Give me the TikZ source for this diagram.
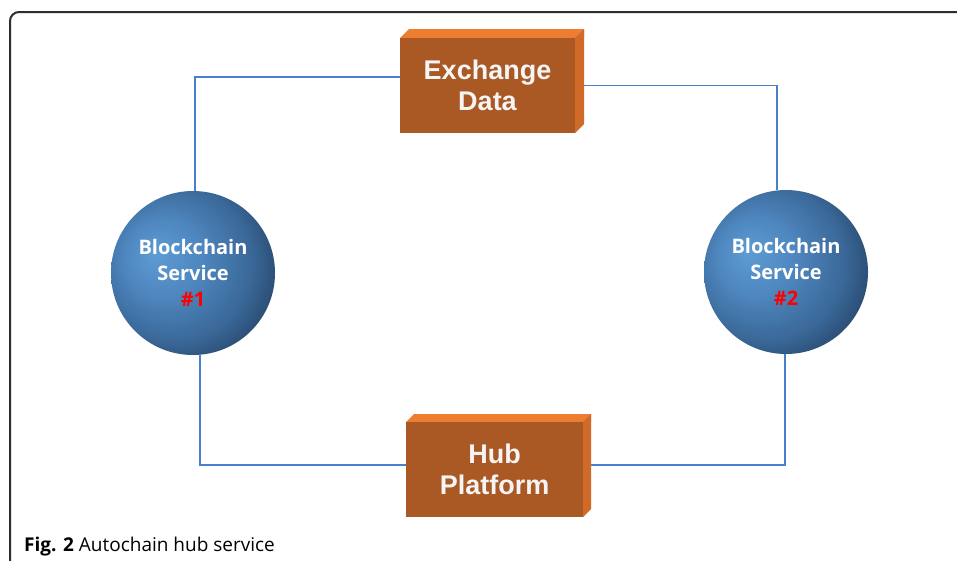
\documentclass[tikz,border=0pt]{standalone}
\usepackage{fontspec}
\setmainfont{Liberation Sans}
\newfontfamily\circlefont{Open Sans}
\newfontfamily\capfont{Open Sans}
\usetikzlibrary{backgrounds}

\definecolor{frontface}{RGB}{170,88,36}
\definecolor{topface}{RGB}{237,125,49}
\definecolor{sideface}{RGB}{208,106,40}
\definecolor{linkblue}{RGB}{72,128,204}
\definecolor{boxtext}{RGB}{245,245,245}
\definecolor{framegray}{RGB}{45,45,45}

% sphere-like shading, light at upper left, dark towards the right edge
\pgfdeclareradialshading{bluesphere}{\pgfpoint{-12bp}{6bp}}{%
  color(0bp)=(rgb,255:red,94;green,156;blue,212);
  color(12bp)=(rgb,255:red,78;green,134;blue,190);
  color(24bp)=(rgb,255:red,58;green,104;blue,152);
  color(37bp)=(rgb,255:red,28;green,52;blue,82);
  color(50bp)=(rgb,255:red,24;green,44;blue,72)}

\tikzset{
  block/.style={rectangle, fill=frontface, inner sep=0pt, outer sep=0pt,
    minimum height=95pt, align=center, text=boxtext,
    font=\fontsize{27}{31.5}\selectfont\bfseries},
  service/.style={circle, shading=bluesphere, inner sep=0pt, outer sep=0pt,
    minimum size=164pt, align=center, text=white,
    font=\circlefont\fontsize{20}{26}\selectfont\bfseries},
  link/.style={draw=linkblue, line width=1.1pt},
}

% draws the top and right faces of a block
\newcommand{\blockdepth}[2]{%
  \fill[topface] (#1.north west) -- ++(#2,#2) -| ([xshift=#2 pt]#1.north east) -- (#1.north east) -- cycle;
  \fill[sideface] (#1.north east) -- ++(#2,#2) -- ([shift={(#2 pt,#2 pt)}]#1.south east) -- (#1.south east) -- cycle;
}

\begin{document}
\begin{tikzpicture}[x=1pt, y=-1pt]
  \useasboundingbox (0,0) rectangle (957,560);

  % outer frame
  \begin{scope}
    \clip (0,0) rectangle (957,560);
    \draw[framegray, line width=2pt, rounded corners=9pt] (10,575) -- (10,12) -- (975,12);
  \end{scope}

  % blocks
  \node[block, minimum width=175pt] (ex) at (487.5,85.5) {Exchange\\Data};
  \node[block, minimum width=177pt] (hub) at (494.5,469.5) {Hub\\Platform};
  \begin{scope}[y=1pt]
    \blockdepth{ex}{9}
    \blockdepth{hub}{8}
  \end{scope}
  \node[block, minimum width=175pt] at (ex) {Exchange\\Data};
  \node[block, minimum width=177pt] at (hub) {Hub\\Platform};

  % services
  \node[service] (s1) at (193,273) {Blockchain\\Service\\\textcolor{red}{\#1}};
  \node[service] (s2) at (786,272) {Blockchain\\Service\\\textcolor{red}{\#2}};

  % page background and connectors, behind the shapes
  \begin{pgfonlayer}{background}
    \fill[white] (0,0) rectangle (957,560);
    \draw[link] ([xshift=2pt]s1.north) |- ([yshift=8.5pt]ex.west);
    \draw[link] (ex.east) -| ([xshift=-9pt]s2.north);
    \draw[link] ([xshift=7pt]s1.south) |- ([yshift=4.5pt]hub.west);
    \draw[link] ([yshift=4.5pt]hub.east) -| ([xshift=-1pt]s2.south);
  \end{pgfonlayer}

  % caption
  \node[anchor=base west, inner sep=0pt, font=\capfont\fontsize{19}{22}\selectfont] (cap) at (24,551)
    {\textbf{Fig. 2} Autochain hub service};
\end{tikzpicture}
\end{document}
